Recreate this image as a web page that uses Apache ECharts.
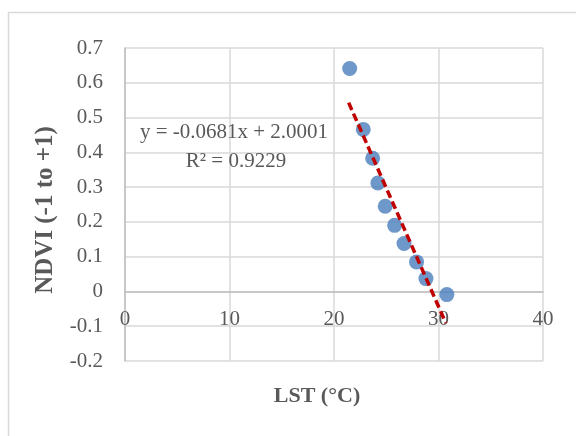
<!DOCTYPE html>
<html>
<head>
<meta charset="utf-8">
<script src="https://cdn.jsdelivr.net/npm/echarts@6/dist/echarts.min.js"></script>
<style>
  html, body { margin: 0; padding: 0; background: #fff; }
  #chart { width: 576px; height: 436px; }
</style>
</head>
<body>
<div id="chart"></div>
<script>
// values
const lstValues = [21.5, 22.8, 23.7, 24.2, 24.9, 25.8, 26.7, 27.9, 28.8, 30.8]
const ndviValues = [0.641, 0.466, 0.383, 0.312, 0.245, 0.19, 0.138, 0.085, 0.037, -0.009]
// linear trend drawn between its two ends
const trendX = [21.4, 30.7]
const trendY = [0.543, -0.091]
const equationText = 'y = -0.0681x + 2.0001'
const r2Text = 'R² = 0.9229'
const xTitle = 'LST (°C)'
const yTitle = 'NDVI (-1 to +1)'

const fontFamily = '"Liberation Serif", "Times New Roman", serif'
const textColor = '#595959'

const yMin = -0.2
const yMax = 0.7
const gridTop = 48
const gridBottom = 75
const plotHeight = 436 - gridTop - gridBottom

const points = lstValues.map((x, i) => [x, ndviValues[i]])
const trendPoints = trendX.map((x, i) => [x, trendY[i]])

const chart = echarts.init(document.getElementById('chart'))

chart.setOption({
  animation: false,
  grid: {
    left: 125,
    top: gridTop,
    right: 33,
    bottom: gridBottom
  },
  xAxis: {
    type: 'value',
    min: 0,
    max: 40,
    interval: 10,
    // horizontal axis crosses the vertical one at 0
    offset: -plotHeight * (0 - yMin) / (yMax - yMin),
    axisLine: {
      onZero: false,
      lineStyle: { color: '#bfbfbf', width: 1.5 }
    },
    axisTick: { show: false },
    axisLabel: {
      margin: 18,
      color: textColor,
      fontFamily,
      fontSize: 21
    },
    splitLine: {
      lineStyle: { color: '#d9d9d9', width: 1.5 }
    }
  },
  yAxis: {
    type: 'value',
    min: yMin,
    max: yMax,
    interval: 0.1,
    axisLine: {
      show: true,
      onZero: false,
      lineStyle: { color: '#bfbfbf', width: 1.5 }
    },
    axisTick: { show: false },
    axisLabel: {
      margin: 22,
      color: textColor,
      fontFamily,
      fontSize: 21,
      formatter: v => String(+v.toFixed(1))
    },
    splitLine: {
      lineStyle: { color: '#d9d9d9', width: 1.5 }
    }
  },
  graphic: [
    {
      type: 'rect',
      silent: true,
      z: -10,
      shape: { x: 8.5, y: 12.5, width: 620, height: 480 },
      style: { fill: 'none', stroke: '#d9d9d9', lineWidth: 1.5 }
    },
    {
      type: 'text',
      x: 234,
      y: 132,
      z: 10,
      style: {
        text: equationText,
        fill: textColor,
        font: '21px ' + fontFamily,
        align: 'center',
        verticalAlign: 'middle'
      }
    },
    {
      type: 'text',
      x: 236,
      y: 161,
      z: 10,
      style: {
        text: r2Text,
        fill: textColor,
        font: '21px ' + fontFamily,
        align: 'center',
        verticalAlign: 'middle'
      }
    },
    {
      type: 'text',
      x: 317,
      y: 396,
      style: {
        text: xTitle,
        fill: textColor,
        font: 'bold 22px ' + fontFamily,
        align: 'center',
        verticalAlign: 'middle'
      }
    },
    {
      type: 'text',
      x: 46,
      y: 210,
      rotation: Math.PI / 2,
      style: {
        text: yTitle,
        fill: textColor,
        font: 'bold 25px ' + fontFamily,
        align: 'center',
        verticalAlign: 'middle'
      }
    }
  ],
  series: [
    {
      type: 'scatter',
      data: points,
      symbol: 'circle',
      symbolSize: 15,
      itemStyle: { color: '#4a7ebb' },
      z: 3
    },
    {
      type: 'line',
      data: trendPoints,
      symbol: 'none',
      lineStyle: { color: '#c00000', width: 3.5, type: [8, 4] },
      z: 4
    }
  ]
})
</script>
</body>
</html>
